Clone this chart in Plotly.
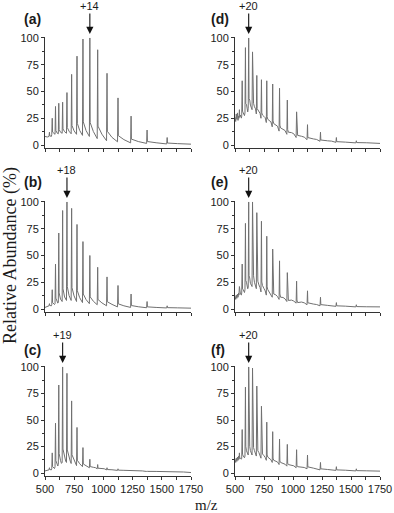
import plotly.graph_objects as go

# ---- data ----
MZ = [538, 562, 590, 618, 651, 688, 728, 774, 825, 884, 951, 1031, 1125, 1237, 1374, 1546]

A_PEAK = [12, 25, 36, 39, 40, 49, 66, 83, 99, 100, 89, 67, 44, 27, 14, 7]
A_FLOOR = [8, 10, 10, 10.5, 11, 11, 10.5, 10, 9, 8, 6, 4, 3, 2, 1.5, 1]
A_ADD = [0] * 16
A_LEAD = [(500, 8), (520, 7.5)]
A_END = 0.8

B_PEAK = [5, 18, 42, 71, 92, 100, 94, 79, 63, 50, 39, 30, 22, 14, 7, 3]
B_FLOOR = [3, 4, 5, 6, 7, 8, 8, 7, 6, 5, 4, 3, 2, 1.5, 1.2, 1]
B_ADD = [0] * 16
B_LEAD = [(500, 1.5), (520, 2)]
B_END = 0.8

C_PEAK = [5, 19, 47, 83, 100, 94, 68, 43, 24, 13, 8, 5, 4, 2.5, 2, 1]
C_FLOOR = [3, 4, 6, 8, 10, 10, 9, 7, 6, 5, 4, 3, 2.5, 2, 1.5, 1]
C_ADD = [0] * 16
C_LEAD = [(500, 2), (520, 2.5)]
C_END = 0.5

D_PEAK = [33, 60, 91, 100, 87, 65, 61, 60, 57, 53, 42, 31, 19, 12, 7, 4]
D_FLOOR = [25, 27, 30, 34, 33, 29, 25, 21, 17, 13, 10, 7, 5, 3.5, 2.5, 2]
D_ADD = [28, 30, 38, 42, 39, 33, 28, 24, 20, 16, 12, 9, 0, 0, 0, 0]
D_LEAD = [(500, 26), (506, 22), (511, 29), (516, 24), (521, 30), (526, 23), (531, 27)]
D_END = 1.5

E_PEAK = [21, 42, 80, 100, 100, 90, 82, 68, 56, 45, 34, 26, 17, 11, 6, 4]
E_FLOOR = [13, 15, 18, 20, 21, 19, 16, 13, 11, 9, 7, 5.5, 4, 3, 2.5, 2]
E_ADD = [14, 18, 25, 29, 31, 26, 22, 18, 14, 11, 8, 6, 0, 0, 0, 0]
E_LEAD = [(500, 12), (506, 9), (511, 13), (516, 10), (521, 14), (526, 11), (531, 15)]
E_END = 2

F_PEAK = [19, 41, 81, 100, 99, 82, 63, 48, 39, 32, 27, 22, 17, 10, 6, 4]
F_FLOOR = [13, 14, 16, 17, 17, 16, 14, 12, 10, 8, 6.5, 5, 4, 3, 2.5, 2]
F_ADD = [14, 16, 21, 25, 24, 21, 18, 15, 12, 10, 8, 6, 0, 0, 0, 0]
F_LEAD = [(500, 13), (506, 10), (511, 14), (516, 11), (521, 15), (526, 12), (531, 16)]
F_END = 1.8

LABELS = ["(a)", "(d)", "(b)", "(e)", "(c)", "(f)"]
CHARGE_TEXT = ["+14", "+20", "+18", "+20", "+19", "+20"]
CHARGE_MZ = [884, 618, 688, 618, 651, 618]
X_TICKS = [500, 750, 1000, 1250, 1500, 1750]
Y_TICKS = [0, 25, 50, 75, 100]


def spectrum(lead, peaks, floors, adduct, end):
    xs = [p[0] for p in lead]
    ys = [p[1] for p in lead]
    n = len(MZ)
    for i, m in enumerate(MZ):
        g = (MZ[i + 1] - m) if i + 1 < n else 200
        h, f = peaks[i], floors[i]
        d = h - f
        xs += [m - 4, m, m + 3]
        ys += [f, h, f + 0.14 * d]
        if adduct[i] > 0:
            xs.append(m + 9)
            ys.append(adduct[i])
        xs += [m + max(0.45 * g, 13), m + 0.7 * g]
        ys += [f + 0.05 * d, f + 0.015 * d]
    xs.append(1750)
    ys.append(end)
    return xs, ys


panels = [
    (A_LEAD, A_PEAK, A_FLOOR, A_ADD, A_END),
    (D_LEAD, D_PEAK, D_FLOOR, D_ADD, D_END),
    (B_LEAD, B_PEAK, B_FLOOR, B_ADD, B_END),
    (E_LEAD, E_PEAK, E_FLOOR, E_ADD, E_END),
    (C_LEAD, C_PEAK, C_FLOOR, C_ADD, C_END),
    (F_LEAD, F_PEAK, F_FLOOR, F_ADD, F_END),
]

W, H = 394, 513
col_dom = [[45 / W, 191 / W], [235 / W, 380 / W]]
row_dom = [[1 - 147.7 / H, 1 - 36.9 / H], [1 - 311.7 / H, 1 - 200.9 / H], [1 - 475.7 / H, 1 - 365.9 / H]]
label_y = [19, 182, 350]
label_x = [22, 209]

fig = go.Figure()
TXT = "#1a1a1a"
AX = "#333333"
FONT = "Liberation Sans, Arial, sans-serif"

for k, p in enumerate(panels):
    xs, ys = spectrum(*p)
    sfx = "" if k == 0 else str(k + 1)
    fig.add_trace(go.Scatter(x=xs, y=ys, mode="lines",
                             line=dict(color="#707070", width=1),
                             xaxis="x" + sfx, yaxis="y" + sfx,
                             showlegend=False, hoverinfo="skip"))
    r, c = k // 2, k % 2
    bottom = (r == 2)
    fig.layout["xaxis" + sfx] = dict(
        domain=col_dom[c], anchor="y" + sfx, range=[500, 1750], automargin=False,
        tickmode="array", tickvals=X_TICKS, showticklabels=bottom,
        ticks="outside", ticklen=3, tickcolor=AX, tickwidth=1,
        minor=dict(ticks="outside", ticklen=3, tickcolor=AX, dtick=125, tick0=500, showgrid=False),
        showline=True, linecolor=AX, linewidth=1, showgrid=False, zeroline=False,
        tickfont=dict(family=FONT, size=11, color=TXT), fixedrange=True)
    fig.layout["yaxis" + sfx] = dict(
        domain=row_dom[r], anchor="x" + sfx, range=[-2.5, 101], automargin=False,
        tickmode="array", tickvals=Y_TICKS,
        ticks="outside", ticklen=3, tickcolor=AX, tickwidth=1,
        minor=dict(ticks="outside", ticklen=2, tickcolor=AX, dtick=12.5, tick0=0, showgrid=False),
        showline=True, linecolor=AX, linewidth=1, showgrid=False, zeroline=False,
        tickfont=dict(family=FONT, size=11, color=TXT), fixedrange=True)
    fig.add_annotation(xref="paper", yref="paper", x=label_x[c] / W, y=1 - label_y[r] / H,
                       text="<b>%s</b>" % LABELS[k], showarrow=False, xanchor="left", yanchor="middle",
                       font=dict(family=FONT, size=14, color=TXT))
    fig.add_annotation(xref="x" + sfx, yref="y" + sfx, x=CHARGE_MZ[k], y=100,
                       text=CHARGE_TEXT[k], showarrow=True, ax=0, ay=-32, standoff=4,
                       arrowhead=2, arrowsize=1.3, arrowwidth=1.1, arrowcolor="#111",
                       font=dict(family=FONT, size=11, color=TXT))

fig.add_annotation(xref="paper", yref="paper", x=10 / W, y=1 - 256 / H,
                   text="Relative Abundance (%)", textangle=-90, showarrow=False,
                   xanchor="center", yanchor="middle",
                   font=dict(family="Liberation Serif, Times New Roman, serif", size=18, color=TXT))
fig.add_annotation(xref="paper", yref="paper", x=206 / W, y=1 - 505 / H,
                   text="m/z", showarrow=False, xanchor="center", yanchor="middle",
                   font=dict(family="Liberation Serif, Times New Roman, serif", size=15, color=TXT))

fig.update_layout(width=W, height=H, margin=dict(l=0, r=0, t=0, b=0, autoexpand=False),
                  paper_bgcolor="white", plot_bgcolor="white")

fig.write_html("out.html", config={"responsive": False, "displayModeBar": False},
               post_script="document.body.style.margin='0';document.body.style.overflow='hidden';")
